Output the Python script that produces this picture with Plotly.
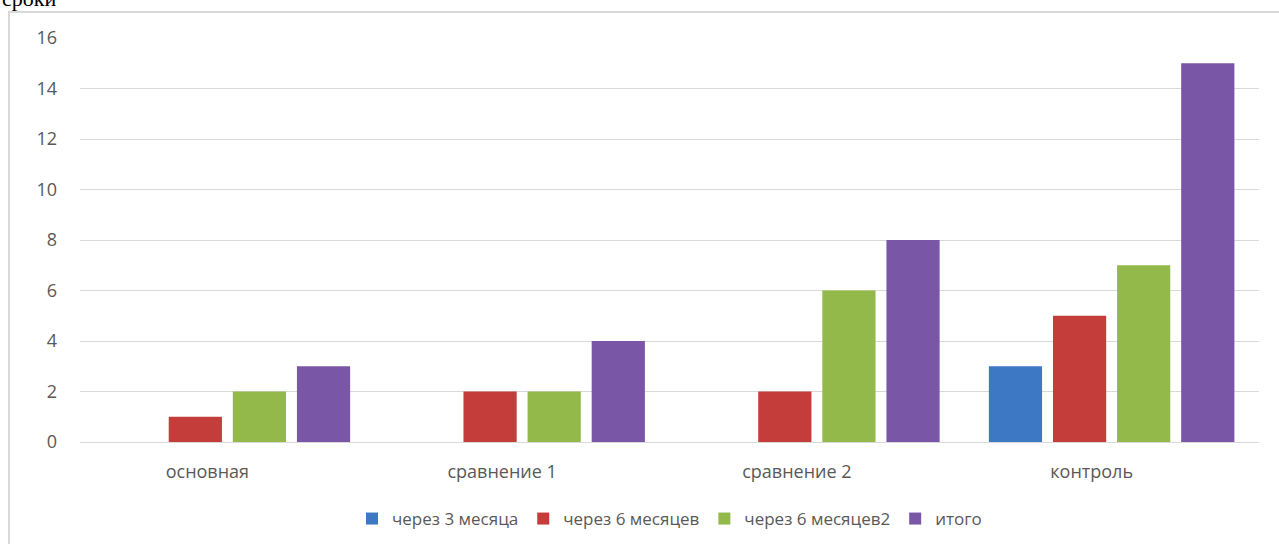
import plotly.graph_objects as go

categories = ["основная", "сравнение 1", "сравнение 2", "контроль"]
s_3m = [0, 0, 0, 3]
s_6m = [1, 2, 2, 5]
s_6m2 = [2, 2, 6, 7]
s_total = [3, 4, 8, 15]
series_names = ["через 3 месяца", "через 6 месяцев", "через 6 месяцев2", "итого"]
colors = ["#3d78c4", "#c43d3a", "#93b94a", "#7a56a6"]
line_colors = ["#2a5a95", "#8f2a28", "#6a8a30", "#5a3d80"]

W, H = 1279, 544
L, R, T, B = 80, 1259, 38, 442
pw, ph = R - L, B - T

fig = go.Figure()
for name, vals, c, lc in zip(series_names, [s_3m, s_6m, s_6m2, s_total], colors, line_colors):
    fig.add_trace(go.Bar(x=categories, y=vals, name=name,
                         marker=dict(color=c, line=dict(color=lc, width=0))))

def px_x(x):
    return (x - L) / pw

def px_y(y):
    return (B - y) / ph

fig.add_shape(type="rect", xref="paper", yref="paper",
              x0=px_x(9), x1=px_x(1290), y0=px_y(560), y1=px_y(12),
              line=dict(color="#d9d9d9", width=2), layer="below")

fig.add_annotation(text="сроки", xref="paper", yref="paper",
                   x=px_x(0), y=px_y(8), xanchor="left", yanchor="bottom",
                   showarrow=False, yshift=-5,
                   font=dict(family="Liberation Serif", size=22, color="#000000"))

fig.update_layout(
    width=W, height=H,
    margin=dict(l=L, r=W - R, t=T, b=H - B, autoexpand=False),
    paper_bgcolor="white", plot_bgcolor="white",
    barmode="group", bargap=0.13, bargroupgap=0.17,
    font=dict(family="Open Sans", size=18, color="#595959"),
    xaxis=dict(showgrid=False, showline=True, linecolor="#d9d9d9", linewidth=1,
               ticks="", tickfont=dict(size=18, color="#595959"),
               ticklabelshift=-20, ticklabelstandoff=13),
    yaxis=dict(range=[0, 16], dtick=2, showgrid=True, gridcolor="#d9d9d9",
               gridwidth=1, zeroline=False, showline=False, ticks="",
               tickfont=dict(size=18, color="#595959"), ticklabelstandoff=22),
    legend=dict(orientation="h", x=0.5, xanchor="center", y=px_y(519), yanchor="middle",
                font=dict(size=17, color="#595959"), itemwidth=30,
                traceorder="normal"),
    showlegend=True,
)

fig.write_html("out.html")
